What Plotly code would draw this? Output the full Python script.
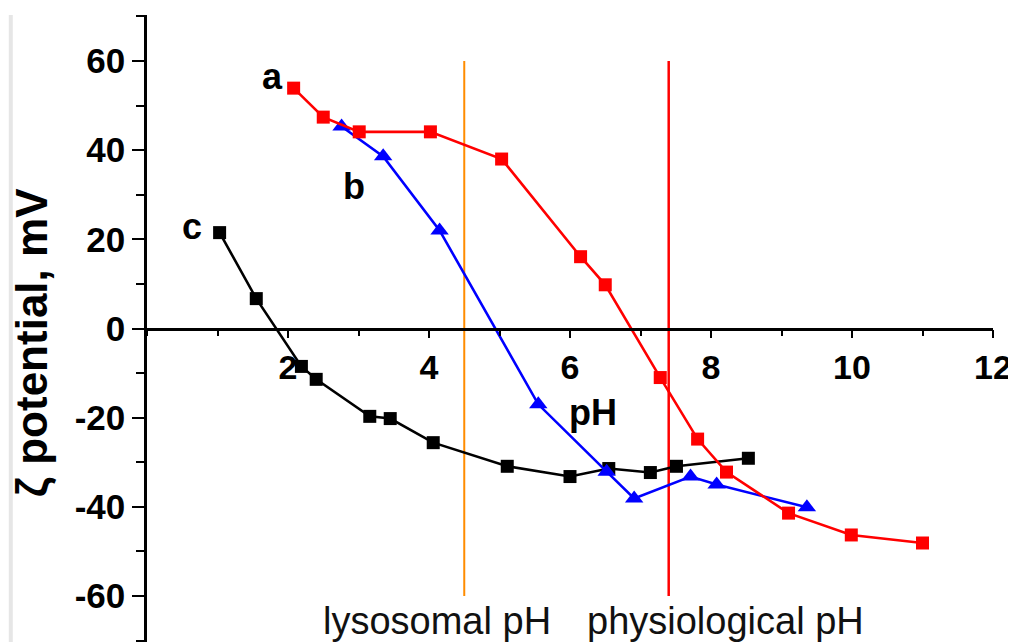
import plotly.graph_objects as go

# Series a (red squares)
ph_a = [2.08, 2.50, 3.01, 4.02, 5.03, 6.15, 6.50, 7.28, 7.81, 8.22, 9.10, 9.99, 11.0]
zeta_a = [53.9, 47.4, 44.1, 44.1, 38.0, 16.1, 9.8, -11.0, -24.8, -32.2, -41.4, -46.3, -48.1]

# Series b (blue triangles)
ph_b = [2.76, 3.35, 4.15, 5.55, 6.52, 6.91, 7.71, 8.08, 9.36]
zeta_b = [45.3, 38.6, 22.0, -17.0, -32.1, -38.1, -33.2, -35.0, -40.1]

# Series c (black squares)
ph_c = [1.03, 1.55, 2.19, 2.40, 3.16, 3.45, 4.06, 5.11, 6.00, 6.55, 7.14, 7.51, 8.53]
zeta_c = [21.5, 6.7, -8.5, -11.4, -19.7, -20.2, -25.6, -30.9, -33.2, -31.4, -32.3, -30.9, -29.1]

x_ticks = [2, 4, 6, 8, 10, 12]
y_ticks = [-60, -40, -20, 0, 20, 40, 60]
lysosomal_ph = 4.5
physiological_ph = 7.4

FONT = "Liberation Sans, Arial, sans-serif"

fig = go.Figure()

fig.add_trace(go.Scatter(x=ph_c, y=zeta_c, mode="lines+markers",
                         line=dict(color="black", width=2.6),
                         marker=dict(symbol="square", size=13, color="black")))
fig.add_trace(go.Scatter(x=ph_b, y=zeta_b, mode="lines+markers",
                         line=dict(color="#0000ff", width=2.6),
                         marker=dict(symbol="triangle-up", size=16, color="#0000ff")))
fig.add_trace(go.Scatter(x=ph_a, y=zeta_a, mode="lines+markers",
                         line=dict(color="#ff0000", width=2.6),
                         marker=dict(symbol="square", size=13, color="#ff0000")))

fig.add_shape(type="line", x0=lysosomal_ph, x1=lysosomal_ph, y0=-60, y1=60,
              line=dict(color="#ff8c00", width=2), layer="below")
fig.add_shape(type="line", x0=physiological_ph, x1=physiological_ph, y0=-60, y1=60,
              line=dict(color="#ff0000", width=2.5), layer="below")

# faint frame edges of the original picture
fig.add_shape(type="line", xref="paper", yref="paper", x0=-0.161, x1=-0.161, y0=-0.02, y1=1.0,
              line=dict(color="#e6e6e6", width=4))
fig.add_shape(type="line", xref="paper", yref="paper", x0=1.022, x1=1.022, y0=-0.02, y1=1.0,
              line=dict(color="#e6e6e6", width=4))

bold = dict(family=FONT, size=36, color="black", weight="bold")
for tx, ty, label in [(1.78, 56.5, "a"), (2.93, 31.8, "b"), (0.64, 22.9, "c"), (6.33, -18.8, "pH")]:
    fig.add_annotation(x=tx, y=ty, text=label, showarrow=False, font=bold,
                       xanchor="center", yanchor="middle")
fig.add_annotation(x=4.11, y=-65.6, text="lysosomal pH", showarrow=False,
                   xanchor="center", yanchor="middle",
                   font=dict(family=FONT, size=38, color="#111"))
fig.add_annotation(x=8.2, y=-65.6, text="physiological pH", showarrow=False,
                   xanchor="center", yanchor="middle",
                   font=dict(family=FONT, size=38, color="#111"))
fig.add_annotation(xref="paper", yref="paper", x=-0.136, y=0.478, text="ζ potential, mV",
                   textangle=-90, showarrow=False, xanchor="center", yanchor="middle",
                   font=dict(family=FONT, size=44, color="black", weight="bold"))

# page body has an 8px margin: figure is 1008x634 so it fills the 1016x642 window
fig.update_layout(
    width=1008, height=634,
    margin=dict(l=138.5, r=23, t=7, b=0),
    plot_bgcolor="white", paper_bgcolor="white",
    showlegend=False,
    xaxis=dict(range=[0, 12], tickvals=x_ticks, ticktext=[str(v) for v in x_ticks],
               anchor="free", position=0.5, automargin=False,
               showline=True, linecolor="black", linewidth=2.5,
               ticks="outside", ticklen=8, tickwidth=2, tickcolor="black",
               minor=dict(dtick=1, ticks="outside", ticklen=6, tickwidth=2, tickcolor="black"),
               showgrid=False, zeroline=False,
               tickfont=dict(family=FONT, size=34, color="black", weight="bold")),
    yaxis=dict(range=[-70.3, 70.3], tickvals=y_ticks, ticktext=[str(v) for v in y_ticks],
               automargin=False,
               showline=True, linecolor="black", linewidth=2.5,
               ticks="outside", ticklen=12, tickwidth=2, tickcolor="black",
               minor=dict(dtick=10, ticks="outside", ticklen=8, tickwidth=2, tickcolor="black"),
               showgrid=False, zeroline=False,
               tickfont=dict(family=FONT, size=35, color="black", weight="bold")),
)

fig.write_html("out.html")
